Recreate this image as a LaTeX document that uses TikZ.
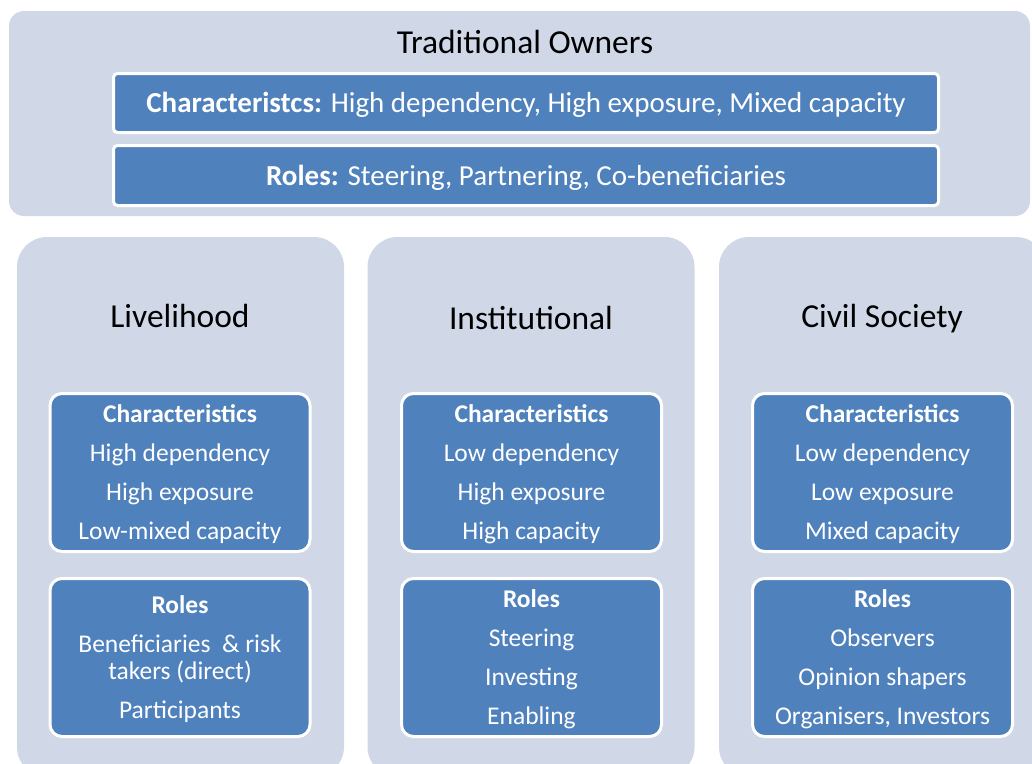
\documentclass[tikz,border=0pt]{standalone}
\usepackage{fontspec}
\setmainfont{Carlito}
\definecolor{panelfill}{HTML}{D0D8E8}
\definecolor{boxfill}{HTML}{4F81BD}
\begin{document}
\begin{tikzpicture}[x=1pt,y=-1pt,
  panel/.style={shape=rectangle, fill=panelfill, draw=none, inner sep=0pt, outer sep=0pt},
  bigpanel/.style={panel, rounded corners=15pt},
  colpanel/.style={panel, rounded corners=30pt, minimum width=327pt, minimum height=540pt},
  topbox/.style={shape=rectangle, fill=boxfill, draw=white, line width=3pt, rounded corners=4pt,
    inner sep=0pt, minimum width=825pt},
  toptext/.style={text=white, inner sep=0pt, font=\fontsize{29}{34}\selectfont},
  colbox/.style={shape=rectangle, fill=boxfill, draw=white, line width=3pt, rounded corners=12pt,
    inner sep=0pt, minimum width=260pt, minimum height=158pt},
  coltext/.style={text=white, align=center, inner sep=0pt, font=\fontsize{25.5}{39}\selectfont},
  title/.style={text=black, inner sep=0pt, text depth=0pt, font=\fontsize{33.5}{40}\selectfont}
]
\useasboundingbox (0,0) rectangle (1032,763);
\clip (0,0) rectangle (1032,763);
\fill[white] (0,0) rectangle (1032,763);

% top panel
\node[bigpanel, minimum width=1021pt, minimum height=205pt] (top) at (519.5,113.5) {};
\node[title] (toTitle) at (525,42) {Traditional Owners};
\node[topbox, minimum height=59pt] (toChar) at (526,103) {};
\node[toptext] (toCharT) at ([yshift=-2pt]toChar.center)
  {\textbf{Characteristcs:} High dependency, High exposure, Mixed capacity};
\node[topbox, minimum height=60pt] (toRoles) at (526,175.5) {};
\node[toptext] (toRolesT) at ([yshift=-2pt]toRoles.center)
  {\textbf{Roles:} Steering, Partnering, Co-beneficiaries};

% columns
\node[colpanel] (livP) at (180.5,507) {};
\node[colpanel] (insP) at (531,507) {};
\node[colpanel] (civP) at (882.5,507) {};

\node[title] (livT) at (180,316) {Livelihood};
\node[title] (insT) at (531,318) {Institutional};
\node[title] (civT) at (882,316) {Civil Society};

\node[colbox] (livC) at (180,472.5) {};
\node[coltext] (livCT) at ([yshift=-2pt]livC.center)
  {\textbf{Characteristics}\\High dependency\\High exposure\\Low-mixed capacity};
\node[colbox] (livR) at (180,657.5) {};
\node[coltext] (livRT) at ([yshift=-2pt]livR.center)
  {\textbf{Roles}\\Beneficiaries~ \& risk\\[-12pt]takers (direct)\\Participants};

\node[colbox] (insC) at (531.5,472.5) {};
\node[coltext] (insCT) at ([yshift=-2pt]insC.center)
  {\textbf{Characteristics}\\Low dependency\\High exposure\\High capacity};
\node[colbox] (insR) at (531.5,657.5) {};
\node[coltext] (insRT) at ([yshift=-2pt]insR.center)
  {\textbf{Roles}\\Steering\\Investing\\Enabling};

\node[colbox] (civC) at (882.5,472.5) {};
\node[coltext] (civCT) at ([yshift=-2pt]civC.center)
  {\textbf{Characteristics}\\Low dependency\\Low exposure\\Mixed capacity};
\node[colbox] (civR) at (882.5,657.5) {};
\node[coltext] (civRT) at ([yshift=-2pt]civR.center)
  {\textbf{Roles}\\Observers\\Opinion shapers\\Organisers, Investors};
\end{tikzpicture}
\end{document}
